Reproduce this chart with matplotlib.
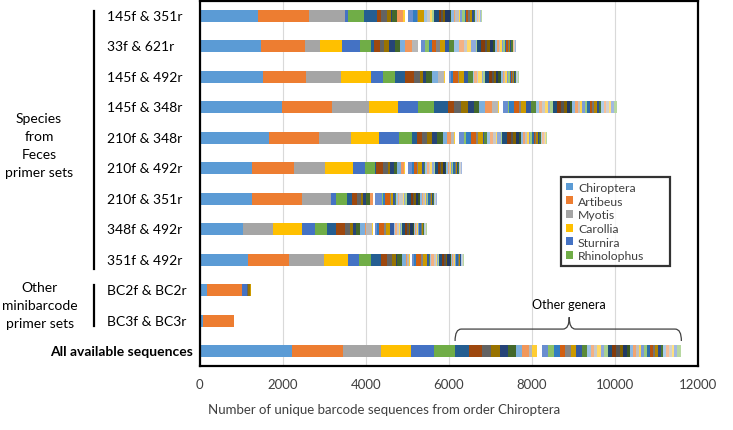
import colorsys
import numpy as np
import matplotlib
matplotlib.use('Agg')
import matplotlib.pyplot as plt
import matplotlib.transforms as mtransforms
from matplotlib.path import Path
from matplotlib.patches import PathPatch

plt.rcParams['font.family'] = ['Lato', 'DejaVu Sans']

# rows, top to bottom
rows = ['145f & 351r', '33f & 621r', '145f & 492r', '145f & 348r', '210f & 348r',
        '210f & 492r', '210f & 351r', '348f & 492r', '351f & 492r',
        'BC2f & BC2r', 'BC3f & BC3r', 'All available sequences']

named = ['Chiroptera', 'Artibeus', 'Myotis', 'Carollia', 'Sturnira', 'Rhinolophus']
chiroptera = [1416, 1472, 1536, 1976, 1672, 1256, 1256, 1040, 1176, 192, 80, 2216]
artibeus = [1216, 1064, 1016, 1216, 1216, 1016, 1200, 0, 984, 824, 760, 1240]
myotis = [864, 376, 864, 880, 760, 744, 720, 720, 840, 0, 0, 920]
carollia = [16, 528, 704, 712, 680, 680, 0, 696, 576, 0, 0, 720]
sturnira = [64, 432, 304, 464, 464, 296, 104, 320, 264, 120, 0, 544]
rhinolophus = [384, 248, 272, 408, 320, 224, 280, 304, 296, 0, 0, 512]

# other genera, one list per row (same genus order in every row)
other_145f_351r = [320, 96, 144, 80, 40, 104, 0, 160, 0, 40, 64, 136, 0, 80, 0, 40, 136, 0, 0,
                   80, 0, 80, 40, 0, 40, 120, 60, 40, 40, 120, 40, 60, 40, 80, 40, 40, 60,
                   40, 40, 40, 60, 40, 32, 40, 30, 30, 20, 20, 20]
other_33f_621r = [80, 136, 104, 112, 144, 120, 120, 176, 144, 0, 64, 112, 104, 72, 80, 96, 128, 96, 120,
                  120, 120, 80, 80, 120, 40, 100, 80, 60, 60, 80, 40, 50, 40, 40, 40, 30, 40,
                  40, 30, 30, 30, 30, 30, 20, 20, 10, 10, 10, 8]
other_145f_492r = [240, 224, 144, 80, 80, 136, 136, 0, 144, 40, 96, 40, 0, 40, 120, 40, 120, 80, 120,
                   40, 60, 40, 80, 40, 40, 100, 60, 60, 40, 60, 60, 40, 40, 30, 40, 30, 30,
                   30, 30, 20, 30, 20, 20, 20, 10, 10, 10, 10, 4]
other_145f_348r = [336, 144, 160, 160, 144, 136, 144, 160, 136, 40, 80, 120, 40, 120, 120, 40, 120, 120, 120,
                   80, 80, 70, 60, 60, 60, 100, 90, 80, 70, 70, 60, 70, 60, 60, 50, 60, 50,
                   70, 60, 50, 60, 50, 50, 70, 60, 60, 60, 60, 64]
other_210f_348r = [128, 120, 120, 112, 128, 136, 104, 96, 80, 16, 96, 128, 40, 112, 128, 56, 104, 40, 56,
                   80, 80, 60, 40, 80, 40, 120, 80, 60, 60, 80, 40, 60, 40, 50, 40, 40, 40,
                   40, 40, 30, 40, 30, 30, 40, 30, 30, 20, 20, 24]
other_210f_492r = [40, 160, 120, 56, 96, 72, 96, 72, 0, 24, 72, 96, 0, 40, 80, 24, 96, 40, 40,
                   40, 40, 20, 60, 40, 20, 80, 40, 40, 40, 60, 20, 30, 30, 40, 20, 30, 20,
                   30, 20, 20, 30, 20, 20, 20, 10, 10, 10, 10, 10]
other_210f_351r = [120, 120, 80, 56, 64, 96, 0, 72, 0, 0, 64, 160, 24, 40, 120, 24, 56, 48, 24,
                   40, 40, 80, 40, 20, 40, 100, 40, 40, 40, 60, 40, 40, 30, 40, 30, 30, 30,
                   30, 20, 20, 30, 20, 20, 20, 10, 10, 10, 10, 12]
other_348f_492r = [216, 216, 104, 80, 80, 80, 120, 40, 136, 16, 64, 40, 0, 48, 128, 40, 104, 80, 0,
                   40, 40, 40, 40, 20, 20, 80, 40, 40, 40, 60, 20, 30, 20, 30, 20, 20, 20,
                   30, 20, 20, 20, 10, 10, 20, 10, 10, 10, 10, 18]
other_351f_492r = [240, 144, 112, 88, 32, 120, 96, 32, 40, 16, 48, 64, 0, 40, 136, 40, 104, 32, 24,
                   40, 60, 40, 40, 20, 20, 80, 40, 40, 40, 60, 20, 30, 20, 30, 20, 20, 20,
                   30, 20, 20, 20, 10, 10, 20, 10, 10, 10, 10, 6]
other_bc2 = [0, 0, 24, 48, 0, 0, 0, 0, 0, 0, 0, 0, 0, 0, 0, 0, 32, 0, 0] + [0] * 30
other_bc3 = [0] * 49
other_all = [344, 296, 224, 216, 184, 192, 160, 160, 88, 120, 112, 144, 144, 136, 136, 128, 136, 136, 128,
             90, 80, 70, 80, 90, 80, 110, 100, 90, 80, 80, 70, 80, 70, 70, 60, 70, 60,
             80, 70, 60, 70, 60, 60, 70, 60, 70, 60, 60, 114]

others = [other_145f_351r, other_33f_621r, other_145f_492r, other_145f_348r, other_210f_348r,
          other_210f_492r, other_210f_351r, other_348f_492r, other_351f_492r,
          other_bc2, other_bc3, other_all]

# Excel-like colour cycle
accents = ['#5B9BD5', '#ED7D31', '#A5A5A5', '#FFC000', '#4472C4', '#70AD47']
variants = [(0.6, 0), (0.8, 0.2), (0.8, 0), (0.6, 0.4), (0.5, 0), (0.7, 0.3), (0.7, 0), (0.5, 0.5)]


def lum(hexc, mod, off):
    r, g, b = matplotlib.colors.to_rgb(hexc)
    h, l, s = colorsys.rgb_to_hls(r, g, b)
    l = min(1, l * mod + off)
    return colorsys.hls_to_rgb(h, l, s)


other_colors = [lum(accents[k % 6], *variants[k // 6]) for k in range(48)]
other_colors.insert(10, 'white')
colors = accents + other_colors

data = np.column_stack([chiroptera, artibeus, myotis, carollia, sturnira, rhinolophus,
                        np.array(others)])

fig = plt.figure(figsize=(7.33, 4.31), dpi=100)
ax = fig.add_axes([199.5 / 733, 1 - 367 / 431, 498.5 / 733, 365 / 431])

y = np.arange(len(rows))
left = np.zeros(len(rows))
for j in range(data.shape[1]):
    lab = named[j] if j < 6 else None
    ax.barh(y, data[:, j], left=left, height=0.4, color=colors[j], label=lab, linewidth=0)
    left += data[:, j]

ax.set_xlim(0, 12000)
ax.set_ylim(len(rows) - 0.52, -0.48)
ax.set_xticks(np.arange(0, 12001, 2000))
ax.tick_params(axis='x', length=0, pad=9, labelsize=9.5, labelcolor='#404040')
ax.set_yticks([])
ax.xaxis.grid(True, color='#D9D9D9', lw=0.8)
ax.set_axisbelow(True)
for s in ax.spines.values():
    s.set_linewidth(1.6)
    s.set_color('black')

fig.text(384 / 733, 1 - 410 / 431, 'Number of unique barcode sequences from order Chiroptera',
         ha='center', va='center', fontsize=9.5, color='#404040')

# row labels
tr = mtransforms.blended_transform_factory(fig.transFigure, ax.transData)
for i, r in enumerate(rows):
    if i == len(rows) - 1:
        fig.text(193 / 733, i, r, transform=tr, ha='right', va='center', fontsize=10,
                 fontweight='bold')
    else:
        fig.text(107 / 733, i, r, transform=tr, ha='left', va='center', fontsize=10)

fig.text(39 / 733, 4.24, 'Species\nfrom\nFeces\nprimer sets', transform=tr, ha='center',
         va='center', fontsize=10, linespacing=1.6)
fig.text(40 / 733, 9.47, 'Other\nminibarcode\nprimer sets', transform=tr, ha='center',
         va='center', fontsize=10, linespacing=1.6)
fig.add_artist(plt.Line2D([94 / 733, 94 / 733], [-0.15, 8.3], transform=tr, color='black', lw=1.6))
fig.add_artist(plt.Line2D([94 / 733, 94 / 733], [8.83, 10.17], transform=tr, color='black', lw=1.6))

# brace over other genera of the last row
x0 = data[-1, :6].sum()
x1 = data[-1].sum()
xm, d = 8900, 150
ye, yl, yp = 10.66, 10.27, 9.88
verts = [(x0, ye), (x0, yl), (x0 + d, yl), (xm - d, yl), (xm, yl), (xm, yp),
         (xm, yl), (xm + d, yl), (x1 - d, yl), (x1, yl), (x1, ye)]
codes = [Path.MOVETO, Path.CURVE3, Path.CURVE3, Path.LINETO, Path.CURVE3, Path.CURVE3,
         Path.CURVE3, Path.CURVE3, Path.LINETO, Path.CURVE3, Path.CURVE3]
ax.add_patch(PathPatch(Path(verts, codes), fill=False, edgecolor='#404040', lw=0.9))
ax.text(xm, 9.45, 'Other genera', ha='center', va='center', fontsize=9, color='black')

leg = ax.legend(loc='upper left', bbox_to_anchor=(561 / 733, 1 - 267 / 431, 109 / 733, 89 / 431),
                bbox_transform=fig.transFigure, mode='expand', fontsize=8.8, frameon=True,
                fancybox=False, handlelength=0.6, handleheight=0.6, handletextpad=0.4,
                labelspacing=0.22, borderpad=0.4, borderaxespad=0)
leg.get_frame().set_edgecolor('black')
leg.get_frame().set_linewidth(1.6)
for t in leg.get_texts():
    t.set_color('#404040')

plt.savefig('out.png', dpi=100)
